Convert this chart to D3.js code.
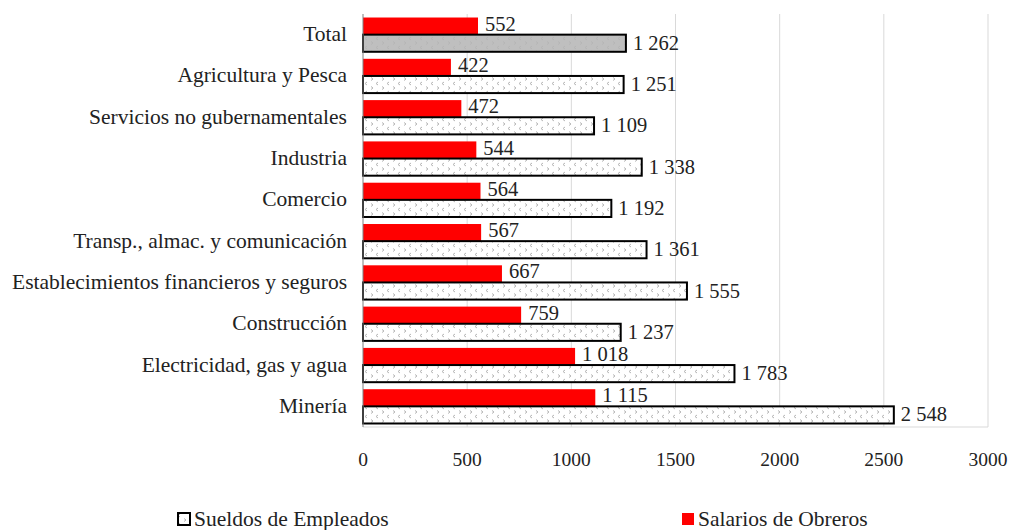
<!DOCTYPE html>
<html>
<head>
<meta charset="utf-8">
<script src="https://cdn.jsdelivr.net/npm/d3@7"></script>
<style>
  body { margin: 0; background: #fff; }
  text { font-family: "Liberation Serif", "DejaVu Serif", serif; fill: #222; }
</style>
</head>
<body>
<div id="chart"></div>
<script>
var categories = ['Total', 'Agricultura y Pesca', 'Servicios no gubernamentales', 'Industria', 'Comercio',
    'Transp., almac. y comunicación', 'Establecimientos financieros y seguros', 'Construcción',
    'Electricidad, gas y agua', 'Minería']
var salarios = [552, 422, 472, 544, 564, 567, 667, 759, 1018, 1115]
var sueldos = [1262, 1251, 1109, 1338, 1192, 1361, 1555, 1237, 1783, 2548]
var xTicks = [0, 500, 1000, 1500, 2000, 2500, 3000]
var seriesNames = ['Sueldos de Empleados', 'Salarios de Obreros']

var width = 1013, height = 530,
    plot = {left: 363, right: 988, top: 14, bottom: 427}

var fmt = function (v) { return d3.format(',')(v).replace(/,/g, ' ') }

var svg = d3.select('#chart').append('svg')
    .attr('width', width)
    .attr('height', height)

var pat = svg.append('defs').append('pattern')
    .attr('id', 'chev')
    .attr('patternUnits', 'userSpaceOnUse')
    .attr('width', 11)
    .attr('height', 9)
pat.append('path')
    .attr('d', 'M4,1 L2,2.5 L4,4 M8,5.5 L10,7 L8,8.5')
    .attr('fill', 'none')
    .attr('stroke', '#b5b5b5')
    .attr('stroke-width', 1)

var x = d3.scaleLinear().domain([0, 3000]).range([plot.left, plot.right])
var y = d3.scaleBand().domain(categories).range([plot.top, plot.bottom])
    .paddingInner(0.17).paddingOuter(0.085)
var half = y.bandwidth() / 2

// grid
svg.append('g').selectAll('line')
    .data(xTicks.slice(1))
    .enter().append('line')
    .attr('x1', function (d) { return x(d) })
    .attr('x2', function (d) { return x(d) })
    .attr('y1', plot.top)
    .attr('y2', plot.bottom)
    .attr('stroke', '#d9d9d9')
    .attr('stroke-width', 1)

svg.append('line')
    .attr('x1', plot.left).attr('x2', plot.right)
    .attr('y1', plot.bottom).attr('y2', plot.bottom)
    .attr('stroke', '#d9d9d9')

// tick labels
svg.append('g').selectAll('text')
    .data(xTicks)
    .enter().append('text')
    .attr('x', function (d) { return x(d) })
    .attr('y', 466)
    .attr('text-anchor', 'middle')
    .attr('font-size', 19.5)
    .text(function (d) { return d })

// red bars
svg.append('g').selectAll('rect')
    .data(salarios)
    .enter().append('rect')
    .attr('x', x(0))
    .attr('y', function (d, i) { return y(categories[i]) })
    .attr('width', function (d) { return x(d) - x(0) })
    .attr('height', half)
    .attr('fill', '#ff0000')

// sueldos bars
var sg = svg.append('g')
sg.selectAll('rect.bg')
    .data(sueldos)
    .enter().append('rect')
    .attr('x', x(0))
    .attr('y', function (d, i) { return y(categories[i]) + half })
    .attr('width', function (d) { return x(d) - x(0) })
    .attr('height', half)
    .attr('fill', function (d, i) { return i === 0 ? '#bfbfbf' : '#fff' })
sg.selectAll('rect.fg')
    .data(sueldos)
    .enter().append('rect')
    .attr('x', x(0))
    .attr('y', function (d, i) { return y(categories[i]) + half })
    .attr('width', function (d) { return x(d) - x(0) })
    .attr('height', half)
    .attr('fill', 'url(#chev)')
    .attr('stroke', '#000')
    .attr('stroke-width', 2)

// axis line
svg.append('line')
    .attr('x1', plot.left).attr('x2', plot.left)
    .attr('y1', plot.top).attr('y2', plot.bottom)
    .attr('stroke', '#7f7f7f')

// value labels
svg.append('g').selectAll('text')
    .data(salarios)
    .enter().append('text')
    .attr('x', function (d) { return x(d) + 7 })
    .attr('y', function (d, i) { return y(categories[i]) + half - 4 })
    .attr('font-size', 20.5)
    .text(fmt)

svg.append('g').selectAll('text')
    .data(sueldos)
    .enter().append('text')
    .attr('x', function (d) { return x(d) + 7 })
    .attr('y', function (d, i) { return y(categories[i]) + 2 * half - 2 })
    .attr('font-size', 20.5)
    .text(fmt)

// category labels
svg.append('g').selectAll('text')
    .data(categories)
    .enter().append('text')
    .attr('x', 347)
    .attr('y', function (d) { return y(d) + half })
    .attr('dy', '0.3em')
    .attr('text-anchor', 'end')
    .attr('font-size', 21.5)
    .text(function (d) { return d })

// legend
var leg = [{x: 177, fill: 'url(#chev)', stroke: '#000'}, {x: 681, fill: '#ff0000', stroke: 'none'}]
var lg = svg.append('g').selectAll('g')
    .data(leg)
    .enter().append('g')
lg.append('rect')
    .attr('x', function (d) { return d.x + 1 })
    .attr('y', 513)
    .attr('width', 12)
    .attr('height', 12)
    .attr('fill', function (d) { return d.fill })
    .attr('stroke', function (d) { return d.stroke })
    .attr('stroke-width', 2)
lg.append('text')
    .attr('x', function (d) { return d.x + 17 })
    .attr('y', 519)
    .attr('dy', '0.33em')
    .attr('font-size', 21.5)
    .text(function (d, i) { return seriesNames[i] })
</script>
</body>
</html>
